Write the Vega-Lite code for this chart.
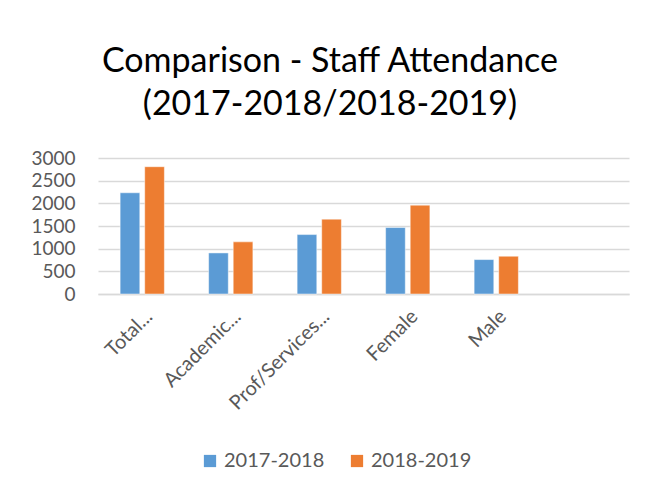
{
  "$schema": "https://vega.github.io/schema/vega-lite/v6.json",
  "width": 531,
  "height": 136,
  "autosize": {"type": "none"},
  "padding": {"left": 98, "top": 158, "right": 21, "bottom": 196},
  "background": "white",
  "config": {
    "font": "Lato",
    "view": {"stroke": null},
    "axis": {"labelFont": "Lato", "labelColor": "#595959", "labelFontSize": 18, "gridColor": "#d9d9d9", "gridWidth": 1.5, "domainColor": "#d9d9d9", "domainWidth": 1.5, "ticks": false, "title": null},
    "legend": {"labelFont": "Lato", "labelColor": "#595959", "labelFontSize": 20}
  },
  "title": {
    "text": ["Comparison - Staff Attendance", "(2017-2018/2018-2019)"],
    "fontSize": 34,
    "font": "Lato",
    "fontWeight": "normal",
    "color": "#000000",
    "lineHeight": 43,
    "frame": "bounds",
    "anchor": "middle",
    "offset": 27
  },
  "data": {
    "values": [
      {"category": "Total...", "year": "2017-2018", "value": 2233},
      {"category": "Total...", "year": "2018-2019", "value": 2808},
      {"category": "Academic...", "year": "2017-2018", "value": 906},
      {"category": "Academic...", "year": "2018-2019", "value": 1150},
      {"category": "Prof/Services...", "year": "2017-2018", "value": 1311},
      {"category": "Prof/Services...", "year": "2018-2019", "value": 1651},
      {"category": "Female", "year": "2017-2018", "value": 1466},
      {"category": "Female", "year": "2018-2019", "value": 1960},
      {"category": "Male", "year": "2017-2018", "value": 759},
      {"category": "Male", "year": "2018-2019", "value": 833}
    ]
  },
  "mark": {"type": "bar", "stroke": "white", "strokeWidth": 0.8, "strokeOpacity": 0.6},
  "encoding": {
    "x": {
      "field": "category",
      "type": "nominal",
      "sort": null,
      "scale": {"domain": ["Total...", "Academic...", "Prof/Services...", "Female", "Male", " "], "paddingInner": 0.5, "paddingOuter": 0.25},
      "axis": {"labelAngle": -45, "grid": false, "labelPadding": 12, "labelFontSize": 20}
    },
    "xOffset": {"field": "year", "type": "nominal", "scale": {"paddingInner": 0.2}},
    "y": {
      "field": "value",
      "type": "quantitative",
      "scale": {"domain": [0, 3000]},
      "axis": {"values": [0, 500, 1000, 1500, 2000, 2500, 3000], "format": "d", "domain": false, "labelPadding": 23, "grid": true, "labelFontSize": 19}
    },
    "color": {
      "field": "year",
      "type": "nominal",
      "scale": {"domain": ["2017-2018", "2018-2019"], "range": ["#5b9bd5", "#ed7d31"]},
      "legend": {"orient": "none", "legendX": 102, "legendY": 293, "direction": "horizontal", "title": null, "symbolType": "square", "symbolSize": 150, "symbolStrokeWidth": 0, "columnPadding": 22, "labelOffset": 4}
    }
  }
}
